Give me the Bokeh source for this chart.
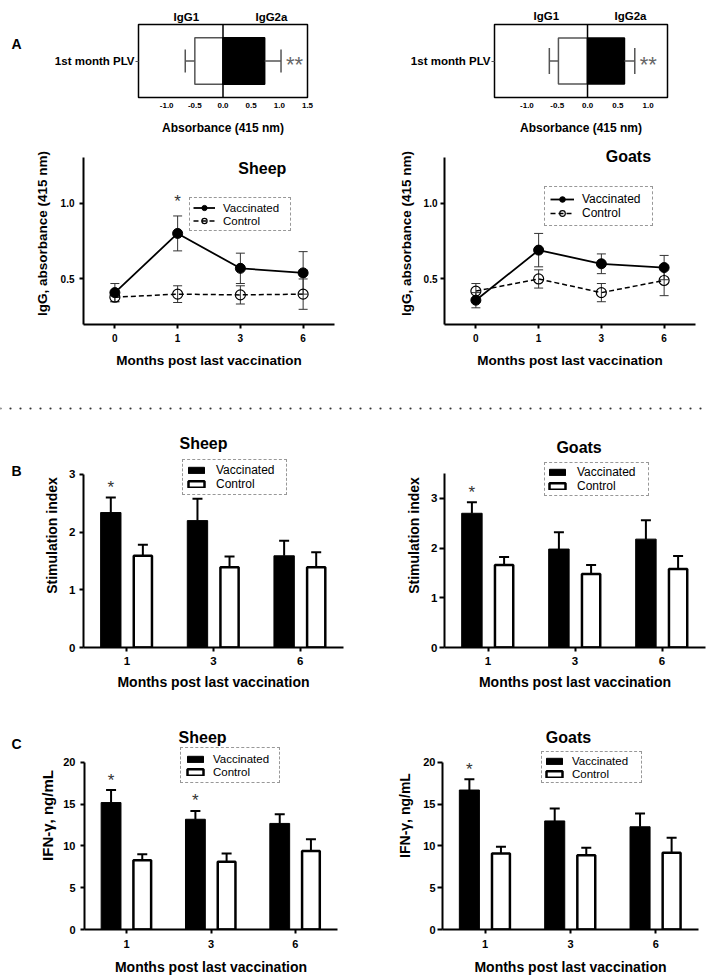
import math
from bokeh.plotting import figure
from bokeh.models import (ColumnDataSource, FactorRange, Range1d, FixedTicker, LinearAxis,
                          PrintfTickFormatter, Label, Span, Legend, LegendItem)
from bokeh.layouts import column, row
from bokeh.transform import dodge
from bokeh.core.properties import value
from bokeh.embed import file_html
from bokeh.resources import INLINE

FONT = "Liberation Sans"

# ---------------- data ----------------
# Panel A (top): IgG subclass, 1st month post last vaccination (IgG1 drawn to the left)
subclasses = ["IgG1", "IgG2a"]
row_label = ["1st month PLV"]
sheep_sub_mean = [-0.50, 0.74]
sheep_sub_err = [0.17, 0.29]
goat_sub_mean = [-0.48, 0.61]
goat_sub_err = [0.15, 0.17]
sub_sig = "**"

# Panel A (bottom): total IgG
months_igg = ["0", "1", "3", "6"]
sheep_igg_vacc = [0.41, 0.80, 0.57, 0.54]
sheep_igg_vacc_err = [0.06, 0.115, 0.10, 0.14]
sheep_igg_ctrl = [0.38, 0.40, 0.395, 0.40]
sheep_igg_ctrl_err = [0.03, 0.055, 0.06, 0.10]
sheep_igg_sig = [False, True, False, False]
goat_igg_vacc = [0.36, 0.69, 0.60, 0.575]
goat_igg_vacc_err = [0.05, 0.11, 0.065, 0.08]
goat_igg_ctrl = [0.42, 0.50, 0.41, 0.49]
goat_igg_ctrl_err = [0.05, 0.06, 0.06, 0.10]
goat_igg_sig = [False, False, False, False]

# Panel B: stimulation index
months_cell = ["1", "3", "6"]
sheep_si_vacc = [2.34, 2.20, 1.59]
sheep_si_vacc_err = [0.26, 0.38, 0.26]
sheep_si_ctrl = [1.59, 1.39, 1.39]
sheep_si_ctrl_err = [0.19, 0.19, 0.26]
sheep_si_sig = [True, False, False]
goat_si_vacc = [2.70, 1.98, 2.18]
goat_si_vacc_err = [0.22, 0.34, 0.38]
goat_si_ctrl = [1.66, 1.48, 1.58]
goat_si_ctrl_err = [0.16, 0.18, 0.26]
goat_si_sig = [True, False, False]

# Panel C: IFN-gamma
sheep_ifn_vacc = [15.2, 13.2, 12.7]
sheep_ifn_vacc_err = [1.5, 1.0, 1.1]
sheep_ifn_ctrl = [8.3, 8.1, 9.4]
sheep_ifn_ctrl_err = [0.7, 1.0, 1.4]
sheep_ifn_sig = [True, True, False]
goat_ifn_vacc = [16.7, 13.0, 12.3]
goat_ifn_vacc_err = [1.3, 1.5, 1.6]
goat_ifn_ctrl = [9.1, 8.9, 9.2]
goat_ifn_ctrl_err = [0.8, 0.9, 1.8]
goat_ifn_sig = [True, False, False]

XLABEL = "Months post last vaccination"


# ---------------- helpers ----------------
def base_fig(width, height, x_range, y_range, left, right, top, bottom):
    p = figure(width=width, height=height, x_range=x_range, y_range=y_range, title=None,
               tools="", toolbar_location=None, output_backend="svg",
               min_border_left=left, min_border_right=right,
               min_border_top=top, min_border_bottom=bottom)
    p.xgrid.visible = False
    p.ygrid.visible = False
    p.outline_line_color = None
    p.background_fill_color = "white"
    p.border_fill_color = "white"
    return p


def style_axis(ax, tick_px, label_px, tick_out=4, line_width=2, label_standoff=4, axis_standoff=6):
    ax.axis_line_width = line_width
    ax.axis_line_color = "black"
    ax.major_tick_line_width = line_width
    ax.major_tick_line_color = "black"
    ax.major_tick_out = tick_out
    ax.major_tick_in = 0
    ax.minor_tick_line_color = None
    ax.major_label_text_font = FONT
    ax.major_label_text_font_style = "bold"
    ax.major_label_text_font_size = f"{tick_px}px"
    ax.major_label_text_color = "black"
    ax.major_label_standoff = label_standoff
    ax.axis_label_text_font = FONT
    ax.axis_label_text_font_style = "bold"
    ax.axis_label_text_font_size = f"{label_px}px"
    ax.axis_label_text_color = "black"
    ax.axis_label_standoff = axis_standoff


def add_text(p, x, y, text, size, bold=True, align="center", color="black"):
    p.add_layout(Label(x=x, y=y, text=text, text_font=FONT, text_font_size=f"{size}px",
                       text_font_style="bold" if bold else "normal", text_align=align,
                       text_baseline="middle", text_color=color))


def add_legend(p, items, loc, font_px, padding, glyph_w, glyph_h, standoff, label_w, label_h):
    leg = Legend(items=items, location=loc, orientation="vertical", margin=0, padding=padding,
                 spacing=0, glyph_width=glyph_w, glyph_height=glyph_h, label_standoff=standoff,
                 label_width=label_w, label_height=label_h,
                 label_text_font=FONT, label_text_font_size=f"{font_px}px", label_text_color="black",
                 border_line_color="#333333", border_line_width=1, border_line_dash="2 2",
                 background_fill_color="white", background_fill_alpha=1.0)
    p.add_layout(leg)


def letter_fig(height, y, letter):
    p = figure(width=30, height=height, x_range=Range1d(0, 30), y_range=Range1d(height, 0),
               title=None, tools="", toolbar_location=None, output_backend="svg",
               x_axis_location=None, y_axis_location=None, min_border=0)
    p.xgrid.visible = False
    p.ygrid.visible = False
    p.outline_line_color = None
    add_text(p, 16, y, letter, 14)
    return p


# ---------------- Panel A top: subclass charts ----------------
def subclass_chart(width, mean, err, x_start, x_end, ticks, left, right, top, bottom, cap,
                   bar_h, igg_x, igg_std):
    p = base_fig(width, 140, Range1d(x_start, x_end), FactorRange(factors=row_label),
                 left, right, top, bottom)
    p.outline_line_color = "black"
    p.outline_line_width = 1.5
    ends = [m + (e if m >= 0 else -e) for m, e in zip(mean, err)]
    src = ColumnDataSource(dict(row=row_label * len(subclasses), sub=subclasses, mean=mean,
                                end=ends, fill=["white", "black"], line=["#555555", "black"]))
    p.hbar(y="row", left=0, right="mean", height=bar_h, fill_color="fill",
           line_color="line", line_width=1.5, source=src)
    p.segment(x0="mean", y0="row", x1="end", y1="row", line_color="#555555",
              line_width=1.5, source=src)
    p.scatter(x="end", y="row", marker="dash", angle=math.pi / 2, size=cap,
              line_color="#555555", line_width=1.5, source=src)
    p.add_layout(Span(location=0, dimension="height", line_color="black", line_width=1.5))
    sig_src = ColumnDataSource(dict(x=[ends[1]], y=row_label))
    p.text(x="x", y="y", text=value(sub_sig), x_offset=5, y_offset=3, text_align="left",
           text_baseline="middle", text_font=value(FONT), text_font_size=value("22px"),
           text_color="#666666", source=sig_src)

    xa = p.xaxis[0]
    xa.ticker = FixedTicker(ticks=ticks)
    xa.formatter = PrintfTickFormatter(format="%.1f")
    xa.axis_label = "Absorbance (415 nm)"
    style_axis(xa, 8, 12, tick_out=0, line_width=1.5, label_standoff=5, axis_standoff=10)
    xa.axis_line_color = None
    ya = p.yaxis[0]
    style_axis(ya, 11.5, 12, tick_out=3, line_width=1, label_standoff=1)
    ya.axis_line_color = None
    ya.major_tick_line_color = "#555555"

    top_axis = LinearAxis(ticker=FixedTicker(ticks=igg_x),
                          major_label_overrides={x: s for x, s in zip(igg_x, subclasses)})
    style_axis(top_axis, 11.5, 12, tick_out=0, line_width=1, label_standoff=igg_std)
    top_axis.axis_line_color = None
    top_axis.major_tick_line_color = None
    p.add_layout(top_axis, "above")
    return p


a_letter = letter_fig(140, 37, "A")
a_sheep_sub = subclass_chart(325, sheep_sub_mean, sheep_sub_err, -1.5, 1.5,
                             [-1.0, -0.5, 0.0, 0.5, 1.0, 1.5],
                             108, 48, 24, 42, 23, 0.635, [-0.65, 0.86], 2)
a_goat_sub = subclass_chart(355, goat_sub_mean, goat_sub_err, -1.535, 1.32,
                            [-1.0, -0.5, 0.0, 0.5, 1.0],
                            139, 43, 16, 43, 26, 0.63, [-0.68, 0.71], 3)


# ---------------- Panel A bottom: IgG line charts ----------------
def igg_chart(vacc, vacc_err, ctrl, ctrl_err, sig, left, right, title, title_xy,
              legend_loc, legend_cfg, y_std, label_std):
    p = base_fig(355, 245, FactorRange(factors=months_igg), Range1d(0.2, 1.399),
                 left, right, 2, 61)
    src = ColumnDataSource(dict(
        month=months_igg, vacc=vacc, ctrl=ctrl,
        vacc_lo=[v - e for v, e in zip(vacc, vacc_err)],
        vacc_hi=[v + e for v, e in zip(vacc, vacc_err)],
        ctrl_lo=[v - e for v, e in zip(ctrl, ctrl_err)],
        ctrl_hi=[v + e for v, e in zip(ctrl, ctrl_err)]))
    cl = p.line("month", "ctrl", line_color="black", line_width=1.5, line_dash="5 3", source=src)
    vl = p.line("month", "vacc", line_color="black", line_width=1.8, source=src)
    for key in ("vacc", "ctrl"):
        p.segment(x0="month", y0=f"{key}_lo", x1="month", y1=f"{key}_hi",
                  line_color="#333333", line_width=1, source=src)
        for end in ("lo", "hi"):
            p.scatter(x="month", y=f"{key}_{end}", marker="dash", size=9,
                      line_color="#333333", line_width=1, source=src)
    cm = p.scatter("month", "ctrl", size=10, fill_color=None, line_color="black",
                   line_width=1.2, source=src)
    vm = p.scatter("month", "vacc", size=10, fill_color="black", line_color="black", source=src)

    sx = [m for m, s in zip(months_igg, sig) if s]
    sy = [v + e for v, e, s in zip(vacc, vacc_err, sig) if s]
    if sx:
        p.text(x="x", y="y", text=value("*"), y_offset=-14, text_align="center",
               text_baseline="middle", text_font=value(FONT), text_font_size=value("17px"),
               text_color="#333333", source=ColumnDataSource(dict(x=sx, y=sy)))

    xa = p.xaxis[0]
    xa.axis_label = XLABEL
    style_axis(xa, 10, 13.5, tick_out=4, label_standoff=5, axis_standoff=8)
    ya = p.yaxis[0]
    ya.ticker = FixedTicker(ticks=[0.5, 1.0])
    ya.formatter = PrintfTickFormatter(format="%.1f")
    ya.axis_label = "IgG, absorbance (415 nm)"
    ya.bounds = (0.2, 1.3)
    style_axis(ya, 10, 13.5, tick_out=4, label_standoff=label_std, axis_standoff=y_std)

    add_text(p, title_xy[0], title_xy[1], title, 16)
    items = [LegendItem(label="Vaccinated", renderers=[vl, vm]),
             LegendItem(label="Control", renderers=[cl, cm])]
    add_legend(p, items, legend_loc, *legend_cfg)
    return p


a_sheep_line = igg_chart(sheep_igg_vacc, sheep_igg_vacc_err, sheep_igg_ctrl, sheep_igg_ctrl_err,
                         sheep_igg_sig, 83, 21, "Sheep", (2.85, 1.228), (106, 93),
                         (11.5, 3, 22, 13, 8, 64, 13), 8, 5)
a_goat_line = igg_chart(goat_igg_vacc, goat_igg_vacc_err, goat_igg_ctrl, goat_igg_ctrl_err,
                        goat_igg_sig, 89, 15, "Goats", (2.93, 1.307), (100, 98),
                        (12, 5, 24, 14, 8, 65, 14), 7, 3)

# ---------------- separator ----------------
sep = figure(width=710, height=38, x_range=(0, 1), y_range=(0, 1), title=None, tools="",
             toolbar_location=None, output_backend="svg", x_axis_location=None,
             y_axis_location=None, min_border=0)
sep.xgrid.visible = False
sep.ygrid.visible = False
sep.outline_line_color = None
sep.add_layout(Span(location=0.395, dimension="width", line_color="#333333", line_width=2.2,
                    line_dash="0 10", line_cap="round"))


# ---------------- Panels B and C: bar charts ----------------
def bar_chart(width, vacc, vacc_err, ctrl, ctrl_err, sig, y_top, y_end, yticks, height, left,
              right, bottom, ylabel, ylabel_px, title, title_xy, legend_loc, legend_cfg,
              x_std, y_std, ylab_std, tick_px, tick_out=4):
    p = base_fig(width, height, FactorRange(factors=months_cell), Range1d(0, y_end),
                 left, right, 0, bottom)
    src = ColumnDataSource(dict(
        month=months_cell, vacc=vacc, ctrl=ctrl,
        vacc_top=[v + e for v, e in zip(vacc, vacc_err)],
        ctrl_top=[v + e for v, e in zip(ctrl, ctrl_err)]))
    xv = dodge("month", -0.185, range=p.x_range)
    xc = dodge("month", 0.185, range=p.x_range)
    vb = p.vbar(x=xv, top="vacc", width=0.235, fill_color="black", line_color="black",
                line_width=1, source=src)
    cb = p.vbar(x=xc, top="ctrl", width=0.21, fill_color="white", line_color="black",
                line_width=2.5, source=src)
    for xx, key in ((xv, "vacc"), (xc, "ctrl")):
        p.segment(x0=xx, y0=key, x1=xx, y1=f"{key}_top", line_color="black", line_width=2,
                  source=src)
        p.scatter(x=xx, y=f"{key}_top", marker="dash", size=10, line_color="black",
                  line_width=2, source=src)
    sx = [m for m, s in zip(months_cell, sig) if s]
    sy = [v + e for v, e, s in zip(vacc, vacc_err, sig) if s]
    if sx:
        p.text(x=dodge("x", -0.185, range=p.x_range), y="y", text=value("*"), y_offset=-10,
               text_align="center", text_baseline="middle", text_font=value(FONT),
               text_font_size=value("17px"), text_color="#333333",
               source=ColumnDataSource(dict(x=sx, y=sy)))

    xa = p.xaxis[0]
    xa.axis_label = XLABEL
    style_axis(xa, tick_px, 14, tick_out=4, label_standoff=x_std[0], axis_standoff=x_std[1])
    ya = p.yaxis[0]
    ya.ticker = FixedTicker(ticks=yticks)
    ya.axis_label = ylabel
    ya.bounds = (0, y_top)
    style_axis(ya, tick_px, ylabel_px, tick_out=tick_out, label_standoff=y_std,
               axis_standoff=ylab_std)

    add_text(p, title_xy[0], title_xy[1], title, 16)
    items = [LegendItem(label="Vaccinated", renderers=[vb]),
             LegendItem(label="Control", renderers=[cb])]
    add_legend(p, items, legend_loc, *legend_cfg)
    return p


b_letter = letter_fig(278, 59, "B")
b_sheep = bar_chart(325, sheep_si_vacc, sheep_si_vacc_err, sheep_si_ctrl, sheep_si_ctrl_err,
                    sheep_si_sig, 3, 3.884, [0, 1, 2, 3], 278, 53, 12, 54,
                    "Stimulation index", 14, "Sheep", (1.385, 3.54), (99, 152),
                    (12, 3, 20, 8, 10, 67, 13), (5, 6), 4, 6, 11.5)
b_goat = bar_chart(355, goat_si_vacc, goat_si_vacc_err, goat_si_ctrl, goat_si_ctrl_err,
                   goat_si_sig, 3.5, 4.506, [0, 1, 2, 3], 278, 89, 5, 54,
                   "Stimulation index", 14, "Goats", (1.547, 4.02), (100, 151),
                   (12, 2, 20, 8, 10, 69, 13), (5, 6), 2, 6, 11.5, tick_out=5)
c_letter = letter_fig(278, 52, "C")
c_sheep = bar_chart(325, sheep_ifn_vacc, sheep_ifn_vacc_err, sheep_ifn_ctrl, sheep_ifn_ctrl_err,
                    sheep_ifn_sig, 20, 27.3, [0, 5, 10, 15, 20], 278, 54, 18, 50,
                    "IFN-γ, ng/mL", 15, "Sheep", (1.40, 23.0), (96, 146),
                    (11.5, 4, 20, 8, 8, 62, 13), (6, 8), 5, 4, 11)
c_goat = bar_chart(355, goat_ifn_vacc, goat_ifn_vacc_err, goat_ifn_ctrl, goat_ifn_ctrl_err,
                   goat_ifn_sig, 20, 27.3, [0, 5, 10, 15, 20], 278, 87, 12, 50,
                   "IFN-γ, ng/mL", 14, "Goats", (1.477, 23.0), (99, 146),
                   (11.5, 2, 20, 8, 8, 67, 13), (6, 8), 2, 7, 11, tick_out=5)

layout = column(
    row(a_letter, a_sheep_sub, a_goat_sub),
    row(a_sheep_line, a_goat_line),
    sep,
    row(b_letter, b_sheep, b_goat),
    row(c_letter, c_sheep, c_goat),
)

open("out.html", "w").write(file_html(layout, INLINE))
